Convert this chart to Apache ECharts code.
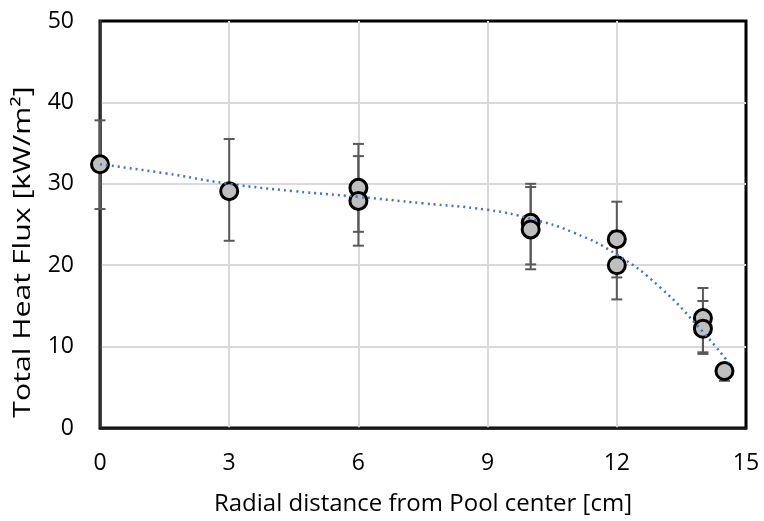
<!DOCTYPE html>
<html lang="en">
<head>
    <meta charset="UTF-8">
    <title>Total Heat Flux</title>
    <script src="https://cdn.jsdelivr.net/npm/echarts@6/dist/echarts.min.js"></script>
    <style>
        html, body { margin: 0; padding: 0; background: #fff; }
    </style>
</head>
<body>
    <div id="main" style="width: 764px;height:521px;"></div>
<script type="text/javascript">
    // measured points (radial position in cm, heat flux in kW/m2)
    var pointX = [0, 3, 6, 6, 10, 10, 12, 12, 14, 14, 14.5];
    var pointY = [32.4, 29.1, 29.5, 27.9, 25.2, 24.4, 23.2, 20.0, 13.5, 12.2, 7.0];
    // error bar ends
    var errLow  = [26.9, 23.0, 24.1, 22.4, 20.1, 19.5, 18.5, 15.8, 9.3, 9.1, 5.8];
    var errHigh = [37.8, 35.5, 34.9, 33.4, 30.0, 29.6, 27.8, 24.2, 17.2, 15.6, 7.8];
    // trend line
    var trendX = [0, 1.5, 3, 4.5, 6, 7.5, 9, 10, 11, 12, 13, 14, 14.6];
    var trendY = [32.4, 31.3, 30.0, 29.1, 28.4, 27.6, 26.8, 25.7, 24.0, 21.3, 17.3, 11.8, 8.0];
    var xTicks = [0, 3, 6, 9, 12, 15];
    var yTicks = [0, 10, 20, 30, 40, 50];

    var points = [], bars = [], trend = [];
    for (var i = 0; i < pointX.length; i++) {
        points.push([pointX[i], pointY[i]]);
        bars.push([pointX[i], errLow[i], errHigh[i]]);
    }
    for (var i = 0; i < trendX.length; i++) {
        trend.push([trendX[i], trendY[i]]);
    }

    var font = 'Open Sans';
    var myChart = echarts.init(document.getElementById('main'));
    var option = {
        animation: false,
        grid: {
            left: 100, right: 18, top: 21, bottom: 93,
            show: true, borderColor: '#000', borderWidth: 3
        },
        // y axis title drawn as text so it can be stretched like the original
        graphic: [{
            type: 'text',
            x: 23, y: 252,
            rotation: Math.PI / 2,
            scaleX: 1.26,
            style: {
                text: 'Total Heat Flux [kW/m²]',
                font: '24px "Open Sans"',
                fill: '#000',
                align: 'center',
                verticalAlign: 'middle'
            }
        }],
        xAxis: {
            type: 'value',
            min: xTicks[0], max: xTicks[xTicks.length - 1], interval: 3,
            name: 'Radial distance from Pool center [cm]',
            nameLocation: 'middle', nameGap: 64,
            nameTextStyle: { fontFamily: font, fontSize: 24, color: '#000' },
            axisLine: { lineStyle: { color: '#1a1a1a', width: 2.5 } },
            axisTick: { show: false },
            axisLabel: { fontFamily: font, fontSize: 23, color: '#000', margin: 24 },
            splitLine: { showMinLine: false, showMaxLine: false, lineStyle: { color: '#d9d9d9', width: 2 } }
        },
        yAxis: {
            type: 'value',
            min: yTicks[0], max: yTicks[yTicks.length - 1], interval: 10,
            axisLine: { show: true, lineStyle: { color: '#333', width: 2.5 } },
            axisTick: { show: false },
            axisLabel: { fontFamily: font, fontSize: 23, color: '#000', margin: 26 },
            splitLine: { showMinLine: false, showMaxLine: false, lineStyle: { color: '#d9d9d9', width: 2 } }
        },
        series: [
            {
                type: 'custom',
                data: bars,
                z: 2,
                renderItem: function (params, api) {
                    var x = api.value(0);
                    var lo = api.coord([x, api.value(1)]);
                    var hi = api.coord([x, api.value(2)]);
                    var w = 5.5;
                    var st = { stroke: '#595959', lineWidth: 2, fill: null };
                    return {
                        type: 'group',
                        children: [
                            { type: 'line', shape: { x1: lo[0], y1: lo[1], x2: hi[0], y2: hi[1] }, style: st },
                            { type: 'line', shape: { x1: lo[0] - w, y1: lo[1], x2: lo[0] + w, y2: lo[1] }, style: st },
                            { type: 'line', shape: { x1: hi[0] - w, y1: hi[1], x2: hi[0] + w, y2: hi[1] }, style: st }
                        ]
                    };
                }
            },
            {
                type: 'scatter',
                data: points,
                z: 3,
                symbol: 'circle',
                symbolSize: 17,
                itemStyle: { color: '#bfbfbf', borderColor: '#000', borderWidth: 3, opacity: 1 }
            },
            {
                type: 'line',
                data: trend,
                z: 4,
                smooth: true,
                showSymbol: false,
                lineStyle: { color: '#4472c4', width: 2.5, type: [2, 4] }
            }
        ]
    };
    myChart.setOption(option);
</script>
</body>
</html>
